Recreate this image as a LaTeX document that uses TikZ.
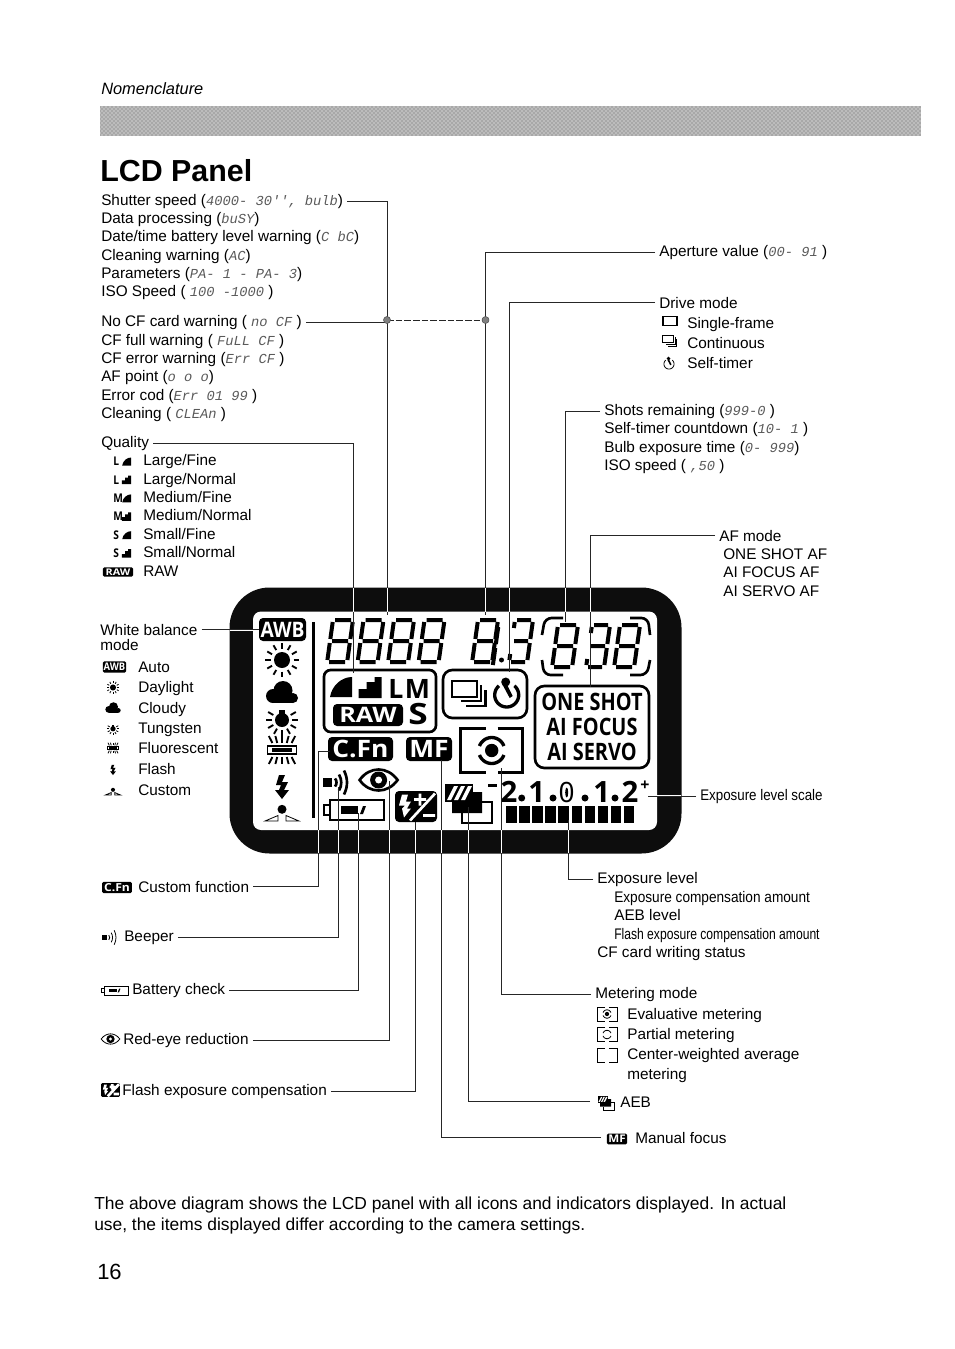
\documentclass[tikz,border=0pt]{standalone}
\usepackage{fontspec}
\usepackage{graphicx}
\usetikzlibrary{patterns}
\setmainfont{Liberation Sans}
\newfontfamily\segfont{Liberation Mono}
\newfontfamily\lcdfont{Open Sans}
\newcommand{\seg}[1]{{\segfont\itshape\fontsize{10.3}{12}\selectfont\color{black!65}#1}}
\newcommand{\bodyfont}{\fontsize{11.5}{14}\selectfont}
\newcommand{\lcdsize}[1]{\lcdfont\bfseries\fontsize{#1}{#1}\selectfont}
\tikzset{
  txt/.style={anchor=base west,inner sep=0pt},
  lead/.style={line width=0.7pt,black!85,shorten <=3pt},
  lcd/.style={line width=2pt},
  ray/.style={line width=1.4pt},
  boxr/.style={rounded corners=3pt},
  mini/.style={scale=#1,line width=0.6pt,boxr/.style={rounded corners=1pt}},
  lcdtxt/.style={transform shape,inner sep=0pt,text=white},
  digit/.style={line width=3pt,xslant=.14},
  awbicon/.pic={
    \fill[boxr] (-23.5,-11.5) rectangle (23.5,11.5);
    \node[lcdtxt,font=\lcdsize{16}] (awbtxt) at (0,0) {\scalebox{.9}[1]{AWB}};
  },
  sunicon/.pic={
    \fill (0,0) circle (8);
    \foreach \a in {0,30,...,330} \draw (\a:11.5) -- (\a:17);
  },
  cloudicon/.pic={
    \fill (-9,3) circle (7);
    \fill (1,-2.5) circle (9.5);
    \fill (11,5) circle (5);
    \fill (-9,5) rectangle (11,10);
  },
  bulbicon/.pic={
    \fill (0,2) circle (7);
    \fill (-3,-8) rectangle (3,-3);
    \foreach \a in {330,0,30,60,90,120,150,180,210} \draw (0,2) ++(\a:10) -- ++(\a:6);
  },
  tubeicon/.pic={
    \draw (-14.5,-4) rectangle (14.5,4);
    \fill (-10,-2) rectangle (10,2);
    \foreach \s in {-12,-6,0,6,12} {
      \draw (0.8*\s,-7) -- (1.1*\s,-14);
      \draw (0.8*\s,7) -- (1.1*\s,14);
    }
  },
  flashicon/.pic={
    \fill (-3,-12) -- (3,-12) -- (0,-5) -- (6,-5) -- (2,3) -- (7,3) -- (0,12) -- (-7,3) -- (-3,3) -- (-1,-2) -- (-6,-2) -- cycle;
  },
  customicon/.pic={
    \fill (0,-2.7) circle (4.5);
    \draw[line width=0.6pt] (-17,9) -- (-4,3.5) -- (-4,9) -- cycle;
    \draw[line width=0.6pt] (17,9) -- (4,3.5) -- (4,9) -- cycle;
  },
  fineicon/.pic={
    \fill (0,0) -- (-22,0) .. controls (-20,-12) and (-10,-20) .. (0,-20) -- cycle;
  },
  normalicon/.pic={
    \fill (0,0) -- (-23,0) -- (-23,-9) -- (-15,-9) -- (-15,-16) -- (-7,-16) -- (-7,-21) -- (0,-21) -- cycle;
  },
  rawicon/.pic={
    \fill[boxr] (-35,-11) rectangle (35,11);
    \node[lcdtxt,font=\lcdsize{16}] (rawtxt) at (0,0) {\scalebox{1.18}[1]{RAW}};
  },
  frameicon/.pic={
    \draw (-12.5,-8) rectangle (12.5,8);
  },
  stackicon/.pic={
    \draw (-12.5,-8) rectangle (12.5,8);
    \draw (16.5,-4) -- (16.5,12) -- (-4,12);
    \draw (21,1) -- (21,17) -- (1,17);
  },
  timericon/.pic={
    \draw plot[smooth,samples=30,domain=-50:230] (\x:12);
    \fill (-1,-13) circle (4.5);
    \fill (-4,-10) -- (0,-11) -- (6,1) -- (3,3) -- cycle;
  },
  cfnicon/.pic={
    \fill[boxr] (-32.5,-12) rectangle (32.5,12);
    \node[lcdtxt,font=\lcdsize{18}] (cfntxt) at (0,0) {\scalebox{1.1}[1]{C.Fn}};
  },
  mficon/.pic={
    \fill[boxr] (-23,-12) rectangle (23,12);
    \node[lcdtxt,font=\lcdsize{18}] (mftxt) at (0,0) {\scalebox{1.1}[1]{MF}};
  },
  meterbox/.pic={
    \draw (-6,-22) -- (-31,-22) -- (-31,22) -- (-6,22);
    \draw (6,-22) -- (31,-22) -- (31,22) -- (6,22);
  },
  meterring/.pic={
    \draw plot[smooth,samples=15,domain=200:340] (\x:13);
    \draw plot[smooth,samples=15,domain=20:160] (\x:13);
  },
  meterdot/.pic={
    \fill (0,0) circle (6.7);
  },
  beepicon/.pic={
    \fill (-9,-4.5) rectangle (0,4.5);
    \draw (3,-4) .. controls (5,-2) and (5,2) .. (3,4);
    \draw (7,-8) .. controls (10,-3) and (10,3) .. (7,8);
    \draw (12,-12) .. controls (16,-4) and (16,4) .. (12,12);
  },
  eyeicon/.pic={
    \draw (-19,0) .. controls (-9,-14) and (9,-14) .. (19,0) .. controls (9,14) and (-9,14) .. (-19,0) -- cycle;
    \fill (0,0) circle (8.5);
    \fill[white] (0,0) circle (3.5);
  },
  batticon/.pic={
    \draw (-24,-10) rectangle (30,10);
    \draw (-24,-5) -- (-30,-5) -- (-30,5) -- (-24,5);
    \fill (-13,-4) rectangle (4,4);
    \fill (6,4) -- (9,-4) -- (12,-4) -- (9,4) -- cycle;
  },
  compicon/.pic={
    \fill[boxr] (-21,-15.5) rectangle (21,15.5);
    \fill[white] (-14,-12) -- (-8,-12) -- (-10,-5) -- (-5,-5) -- (-9,2) -- (-5,2) -- (-12,11) -- (-14,2) -- (-11,-1) -- (-17,-1) -- cycle;
    \draw[white,line width=2pt] (-2,-7) -- (10,-7) (4,-13) -- (4,-1) (-6,14) -- (19,-13) (7,9) -- (19,9);
  },
  aebicon/.pic={
    \fill (-23,-19) rectangle (5,-1);
    \foreach \s in {-21,-14,-7} \fill[white] (\s,-3) -- (\s+4,-3) -- (\s+11,-17) -- (\s+7,-17) -- cycle;
    \fill (-16,-1) -- (5,-1) -- (5,-11) -- (14,-11) -- (14,10) -- (-16,10) -- cycle;
    \draw (14,-1) -- (24,-1) -- (24,20) -- (-6,20) -- (-6,10);
  },
  segeight/.pic={
    \draw[digit] (2,0) -- (18,0) (2,21) -- (18,21) (2,42) -- (18,42) (0,2) -- (0,19) (20,2) -- (20,19) (0,23) -- (0,40) (20,23) -- (20,40);
  },
  segthree/.pic={
    \draw[digit] (2,0) -- (16,0) (2,21) -- (16,21) (2,42) -- (16,42) (18,2) -- (18,19) (18,23) -- (18,40) (0,2) -- (0,8) (0,34) -- (0,40);
  },
}
\begin{document}
\begin{tikzpicture}[x=0.75pt,y=-0.75pt,font=\bodyfont]
  \useasboundingbox (0,0) rectangle (954,1349);
  \node[txt,font=\fontsize{12.3}{14}\selectfont\itshape] (chapter) at (101,94) {Nomenclature};
  \fill[black!34] (100,106) rectangle (921,136);
  \fill[pattern=crosshatch dots,pattern color=white] (100,106) rectangle (921,136);
  \node[txt,font=\fontsize{22.8}{26}\selectfont\bfseries] (title) at (100,181) {LCD Panel};

  \foreach \y/\n/\t in {205/shutter/{Shutter speed (\seg{4000- 30'', bulb})},
    223.3/busy/{Data processing (\seg{buSY})},
    241.7/battery/{Date/time battery level warning (\seg{C bC})},
    260/cleanwarn/{Cleaning warning (\seg{AC})},
    278.5/params/{Parameters (\seg{PA- 1 - PA- 3})},
    296.8/isoleft/{ISO Speed ( \seg{100 -1000} )},
    326.7/nocard/{No CF card warning ( \seg{no CF} )},
    345/cardfull/{CF full warning ( \seg{FuLL CF} )},
    363.3/carderr/{CF error warning (\seg{Err CF} )},
    381.7/afpoint/{AF point (\seg{o o o})},
    400/errcode/{Error cod (\seg{Err 01 99} )},
    418.3/cleaning/{Cleaning ( \seg{CLEAn} )},
    447/quality/{Quality}}
    \node[txt] (\n) at (101,\y) {\t};

  \foreach \y/\i/\l/\t in {465.5/1/L/Large\slash Fine,484/2/L/Large\slash Normal,502.4/3/M/Medium\slash Fine,520.8/4/M/Medium\slash Normal,539.2/5/S/Small\slash Fine,557.6/6/S/Small\slash Normal}
    {
      \node[txt] (qual\i) at (143,\y) {\t};
      \node[txt,font=\lcdsize{9}] (qualsym\i) at (113,\y) {\scalebox{.85}[1]{\l}};
    }
  \foreach \y in {465.5,502.4,539.2} \pic[mini=.4] at (131,\y) {fineicon};
  \foreach \y in {484,520.8,557.6} \pic[mini=.4] at (131,\y) {normalicon};
  \pic[mini=.43] at (118,572) {rawicon};
  \node[txt] (qual7) at (143,576) {RAW};

  \node[txt] (wbal) at (100,635) {White balance};
  \node[txt] (wbalmode) at (100,650) {mode};
  \foreach \y/\i/\t in {672/1/Auto,692/2/Daylight,713/3/Cloudy,733/4/Tungsten,753/5/Fluorescent,774/6/Flash,795/7/Custom}
    \node[txt] (wb\i) at (138,\y) {\t};
  \pic[mini=.49] at (114.5,667) {awbicon};
  \pic[mini=.38] at (113,687.5) {sunicon};
  \pic[mini=.48] at (113,708) {cloudicon};
  \pic[mini=.38] at (113,728) {bulbicon};
  \pic[mini=.38] at (113,748) {tubeicon};
  \pic[mini=.42] at (113,770) {flashicon};
  \pic[mini=.45] at (113,791) {customicon};

  \node[txt] (custom) at (138,892) {Custom function};
  \node[txt] (beeper) at (124,941) {Beeper};
  \node[txt] (battcheck) at (132,994) {Battery check};
  \node[txt] (redeye) at (123,1044) {Red-eye reduction};
  \node[txt] (flashcomp) at (122,1095) {Flash exposure compensation};
  \pic[mini=.46] at (117,887.5) {cfnicon};
  \pic[mini=.6] at (107,937.5) {beepicon};
  \pic[mini=.45] at (115,990.5) {batticon};
  \pic[mini=.49] at (110.5,1039) {eyeicon};
  \pic[mini=.45] at (110.5,1090) {compicon};

  \node[txt] (aperture) at (659,256) {Aperture value (\seg{00- 91} )};
  \node[txt] (drive) at (659,308) {Drive mode};
  \node[txt] (single) at (687,328) {Single-frame};
  \node[txt] (contin) at (687,348) {Continuous};
  \node[txt] (selftimer) at (687,368) {Self-timer};
  \pic[scale=.56,line width=1.1pt] at (670,321) {frameicon};
  \pic[mini=.42] at (668,339) {stackicon};
  \pic[mini=.42] at (669,364) {timericon};
  \node[txt] (shots) at (604,415) {Shots remaining (\seg{999-0} )};
  \node[txt] (countdown) at (604,433.5) {Self-timer countdown (\seg{10- 1} )};
  \node[txt] (bulbtime) at (604,452) {Bulb exposure time (\seg{0- 999})};
  \node[txt] (isoright) at (604,470) {ISO speed ( \seg{,50} )};
  \node[txt] (afmode) at (719,541) {AF mode};
  \node[txt] (oneshot) at (723,559) {ONE SHOT AF};
  \node[txt] (aifocus) at (723,577.5) {AI FOCUS AF};
  \node[txt] (aiservo) at (723,596) {AI SERVO AF};
  \node[txt] (scalelbl) at (700,800) {\scalebox{.87}[1]{Exposure level scale}};
  \node[txt] (explevel) at (597,883) {Exposure level};
  \node[txt] (expcomp) at (614,902) {\scalebox{.89}[1]{Exposure compensation amount}};
  \node[txt] (aeblevel) at (614,920) {AEB level};
  \node[txt] (flashamount) at (614,939) {\scalebox{.79}[1]{Flash exposure compensation amount}};
  \node[txt] (cfstatus) at (597,957) {CF card writing status};
  \node[txt] (metering) at (595,998) {Metering mode};
  \node[txt] (evaluative) at (627,1019) {Evaluative metering};
  \node[txt] (partial) at (627,1039) {Partial metering};
  \node[txt] (centerw) at (627,1059) {Center-weighted average};
  \node[txt] (centerw2) at (627,1079) {metering};
  \pic[mini=.32] at (607,1014) {meterbox};
  \pic[mini=.32] at (607,1014) {meterring};
  \pic[mini=.32] at (607,1014) {meterdot};
  \pic[mini=.32] at (607,1034.5) {meterbox};
  \pic[mini=.32] at (607,1034.5) {meterring};
  \pic[mini=.32] at (607,1055.5) {meterbox};
  \node[txt] (aeb) at (620,1107) {AEB};
  \pic[mini=.36] at (606,1103) {aebicon};
  \node[txt] (manual) at (635,1143) {Manual focus};
  \pic[mini=.44] at (617,1139) {mficon};

  \fill[black!95,rounded corners=30pt] (229.5,587.5) rectangle (681.5,853.5);
  \fill[white,rounded corners=6pt] (253,611.5) rectangle (657,830);

  \pic at (282.5,629.5) {awbicon};
  \pic[ray] at (282,660) {sunicon};
  \pic at (282,693) {cloudicon};
  \pic[ray] at (282,718) {bulbicon};
  \pic[ray] at (282,750) {tubeicon};
  \pic at (282,787) {flashicon};
  \pic at (282,812) {customicon};
  \fill (312,622) rectangle (314.5,818);

  \foreach \x in {333,363.5,394,424.5} \pic at (\x,620) {segeight};
  \pic at (478,620) {segeight};
  \fill (501.5,660) circle (2.5);
  \pic at (515,620) {segthree};
  \pic at (558,625) {segeight};
  \pic at (620,625) {segeight};
  \pic at (592,625) {segthree};
  \draw[digit] (586,627) -- (586,644) (586,648) -- (586,665);
  \draw[lcd,rounded corners=5pt] (542,635) -- (545,618) -- (563,618);
  \draw[lcd,rounded corners=5pt] (630,618) -- (648,618) -- (650,635);
  \draw[lcd,rounded corners=5pt] (542,660) -- (544,675) -- (563,675);
  \draw[lcd,rounded corners=5pt] (630,675) -- (647,675) -- (650,660);

  \draw[lcd,rounded corners=5pt] (324,670) rectangle (436,732);
  \pic at (352,697) {fineicon};
  \pic at (381.5,698) {normalicon};
  \node[inner sep=0pt,font=\lcdsize{20}] (lsym) at (396,688.5) {L};
  \node[inner sep=0pt,font=\lcdsize{20}] (msym) at (417.5,688.5) {M};
  \node[inner sep=0pt,font=\lcdsize{22}] (ssym) at (418,714.5) {\scalebox{1.2}[1]{S}};
  \pic at (368,715) {rawicon};

  \draw[lcd,rounded corners=7pt] (443,670) rectangle (527,718);
  \pic[lcd] at (464.5,689) {stackicon};
  \pic[line width=2.5pt] at (506.7,695) {timericon};

  \draw[lcd,rounded corners=7pt] (535,686) rectangle (649,768);
  \node[anchor=base,inner sep=0pt,font=\lcdsize{18}] (lcdone) at (592,710) {\scalebox{.83}[1]{ONE SHOT}};
  \node[anchor=base,inner sep=0pt,font=\lcdsize{18}] (lcdfocus) at (592,735) {\scalebox{.83}[1]{AI FOCUS}};
  \node[anchor=base,inner sep=0pt,font=\lcdsize{18}] (lcdservo) at (592,760) {\scalebox{.83}[1]{AI SERVO}};

  \pic at (360.5,749) {cfnicon};
  \pic at (429,749) {mficon};
  \pic[lcd] at (491.7,750.5) {meterbox};
  \pic[line width=2.5pt] at (491.7,750.5) {meterring};
  \pic at (491.7,750.5) {meterdot};
  \pic[lcd] at (332,782.5) {beepicon};
  \pic[lcd] at (378.6,780) {eyeicon};
  \pic[lcd] at (354,810) {batticon};
  \pic at (416,806.5) {compicon};
  \pic[lcd] at (468,803) {aebicon};

  \fill (488,784) rectangle (497,786.5);
  \foreach \x/\i/\d in {509/1/2,536.7/2/1,601.7/3/1,630/4/2}
    \node[anchor=base,inner sep=0pt,font=\lcdsize{22}] (scale\i) at (\x,802) {\d};
  \node[anchor=base,inner sep=0pt,font=\lcdfont\fontsize{21}{21}\selectfont] (scale0) at (566.7,802) {0};
  \fill (566.7,792.5) ellipse (1.5 and 5);
  \foreach \x in {521.7,553,585,615} \fill (\x,798) circle (3.5);
  \node[inner sep=0pt,font=\lcdsize{12}] (plus) at (645,786) {+};
  \foreach \i in {0,...,9} \fill (506+13.1*\i,806) rectangle ++(10.5,17);

  \coordinate (tvtip) at (387,615);
  \coordinate (cftip) at (387,320);
  \coordinate (avdot) at (485.5,320);
  \coordinate (avtip) at (485.5,615);
  \coordinate (drivetip) at (509,672);
  \coordinate (shotstip) at (565.5,622);
  \coordinate (aftip) at (590,687);
  \coordinate (qualtip) at (353,673);
  \coordinate (awbtip) at (259,630);
  \coordinate (plustip) at (648,795);
  \coordinate (leveltip) at (568,820);
  \coordinate (metertip) at (501,768);
  \coordinate (aebtip) at (468,807);
  \coordinate (mftip) at (441,760);
  \coordinate (comptip) at (415.5,822);
  \coordinate (eyetip) at (389.5,781);
  \coordinate (batttip) at (358,813);
  \coordinate (beeptip) at (338,787);
  \coordinate (cfnelbow) at (318,751);
  \coordinate (cfntip) at (330,751);

  \draw[lead] (shutter.east) -| (tvtip);
  \draw[lead] (nocard.east) -| (cftip);
  \draw[line width=0.7pt,black!85,dash pattern=on 5pt off 1.5pt] (cftip) -- (avdot);
  \draw[lead] (aperture.west) -| (avtip);
  \draw[lead] (drive.west) -| (drivetip);
  \draw[lead] (shots.west) -| (shotstip);
  \draw[lead] (afmode.west) -| (aftip);
  \draw[lead] (quality.east) -| (qualtip);
  \draw[lead] (wbal.east) -- (wbal.east -| awbtip);
  \draw[lead] (scalelbl.west) -- (scalelbl.west -| plustip);
  \draw[lead] (explevel.west) -| (leveltip);
  \draw[lead] (metering.west) -| (metertip);
  \draw[lead] (aeb.west) ++(-26,0) -| (aebtip);
  \draw[lead] (manual.west) ++(-30,0) -| (mftip);
  \draw[lead] (flashcomp.east) -| (comptip);
  \draw[lead] (redeye.east) -| (eyetip);
  \draw[lead] (battcheck.east) -| (batttip);
  \draw[lead] (beeper.east) -| (beeptip);
  \draw[lead] (custom.east) -| (cfnelbow) -- (cfntip);
  \filldraw[fill=black!50,draw=black!70] (cftip) circle (3.5);
  \filldraw[fill=black!50,draw=black!70] (avdot) circle (3.5);

  \foreach \x in {353,387,485.5,509,565.5,590} \draw[white,line width=0.7pt] (\x,588) -- (\x,611.5);
  \foreach \x in {318,338,358,389.5,415.5,441,468,501,568} \draw[white,line width=0.7pt] (\x,830) -- (\x,853);
  \draw[white,line width=0.7pt] (230,630) -- (253,630);
  \draw[white,line width=0.7pt] (657,795) -- (681,795);

  \node[txt,font=\fontsize{13.05}{15}\selectfont] (note1) at (94,1209) {The above diagram shows the LCD panel with all icons and indicators displayed. In actual};
  \node[txt,font=\fontsize{13.05}{15}\selectfont] (note2) at (94,1230) {use, the items displayed differ according to the camera settings.};
  \node[txt,font=\fontsize{16.5}{18}\selectfont] (pageno) at (97,1279) {16};
\end{tikzpicture}
\end{document}
